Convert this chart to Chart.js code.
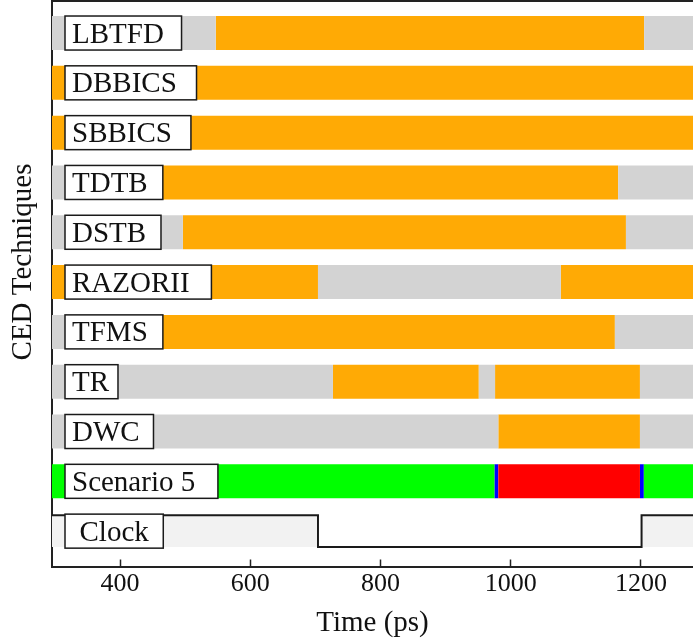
<!DOCTYPE html>
<html>
<head>
<meta charset="utf-8">
<script src="https://cdn.jsdelivr.net/npm/chart.js@4.4.0/dist/chart.umd.min.js"></script>
<style>
  html, body { margin: 0; padding: 0; background: #ffffff; overflow: hidden; }
  #wrap { width: 693px; height: 644px; }
</style>
</head>
<body>
<div id="wrap"><canvas id="timeline" width="693" height="644"></canvas></div>
<script>
// Rows of the timing diagram, top to bottom (the last row is the clock)
const rowNames = ['LBTFD', 'DBBICS', 'SBBICS', 'TDTB', 'DSTB', 'RAZORII', 'TFMS', 'TR', 'DWC', 'Scenario 5', 'Clock'];
const timeStart = 295.5;
const timeEnd = 1280;
const timeTicks = [400, 600, 800, 1000, 1200];

// Intervals as [row, from (ps), to (ps)]
const idleIntervals = [
  [0, 295.5, 547], [0, 1205, 1280],
  [3, 295.5, 466], [3, 1165, 1280],
  [4, 295.5, 496.5], [4, 1177, 1280],
  [5, 704, 1077],
  [6, 295.5, 466], [6, 1160, 1280],
  [7, 295.5, 727], [7, 951, 976], [7, 1198.5, 1280],
  [8, 295.5, 981], [8, 1198.5, 1280]
];
const activeIntervals = [
  [0, 547, 1205],
  [1, 295.5, 1280],
  [2, 295.5, 1280],
  [3, 466, 1165],
  [4, 496.5, 1177],
  [5, 295.5, 704], [5, 1077, 1280],
  [6, 466, 1160],
  [7, 727, 951], [7, 976, 1198.5],
  [8, 981, 1198.5]
];
const correctIntervals = [[9, 295.5, 975], [9, 1204.5, 1280]];
const errorIntervals = [[9, 981, 1198.5]];
const detectIntervals = [[9, 975, 981], [9, 1198.5, 1204.5]];

// Clock waveform: edge times and logic levels
const clockTimes = [295.5, 704, 704, 1201, 1201, 1280];
const clockLevels = [1, 1, 0, 0, 1, 1];

const clockRow = 10;
const clockSwing = 0.32;
const barFraction = 0.683;
const serif = '"Liberation Serif", "Times New Roman", serif';

function toBars(list) {
  return list.map(([row, from, to]) => ({ y: row, x: [from, to] }));
}

function barSet(list, color) {
  return {
    type: 'bar',
    indexAxis: 'y',
    data: toBars(list),
    backgroundColor: color,
    borderWidth: 0,
    grouped: false,
    categoryPercentage: 1,
    barPercentage: barFraction
  };
}

const clockData = clockTimes.map((t, i) => ({
  x: t,
  y: clockRow + (clockLevels[i] ? -clockSwing : clockSwing)
}));

// Boxed row names drawn on top of the bars
const rowLabels = {
  id: 'rowLabels',
  afterDatasetsDraw(chart) {
    const { ctx, chartArea, scales: { y } } = chart;
    ctx.save();
    ctx.font = '29px ' + serif;
    ctx.lineWidth = 1.5;
    ctx.strokeStyle = '#1a1a1a';
    ctx.textBaseline = 'alphabetic';
    rowNames.forEach((name, i) => {
      const top = y.getPixelForValue(i - barFraction / 2);
      const bottom = y.getPixelForValue(i + barFraction / 2);
      const mid = y.getPixelForValue(i);
      const tw = ctx.measureText(name).width;
      const left = chartArea.left + 13;
      const isClock = i === clockRow;
      const w = isClock ? tw + 29 : tw * 1.16 + 10;
      ctx.fillStyle = '#ffffff';
      ctx.fillRect(left, top, w, bottom - top);
      ctx.strokeRect(left, top, w, bottom - top);
      ctx.fillStyle = '#111111';
      ctx.textAlign = 'left';
      const tx = isClock ? left + (w - tw) / 2 : left + 7;
      ctx.fillText(name, tx, mid + 9.6);
    });
    ctx.restore();
  }
};

// Top edge of the plot frame
const frameTop = {
  id: 'frameTop',
  afterDraw(chart) {
    const { ctx, chartArea } = chart;
    ctx.save();
    ctx.strokeStyle = '#222222';
    ctx.lineWidth = 2;
    ctx.beginPath();
    ctx.moveTo(chartArea.left - 1, chartArea.top);
    ctx.lineTo(chartArea.right, chartArea.top);
    ctx.stroke();
    ctx.restore();
  }
};

new Chart(document.getElementById('timeline'), {
  type: 'bar',
  data: {
    datasets: [
      barSet(idleIntervals, '#d3d3d3'),
      barSet(activeIntervals, '#ffaa05'),
      barSet(correctIntervals, '#00ff00'),
      barSet(errorIntervals, '#ff0000'),
      barSet(detectIntervals, '#0000ff'),
      {
        type: 'line',
        indexAxis: 'x',
        data: clockData,
        borderColor: '#1a1a1a',
        borderWidth: 2,
        pointRadius: 0,
        tension: 0,
        fill: { value: clockRow + clockSwing },
        backgroundColor: '#f2f2f2'
      }
    ]
  },
  options: {
    responsive: false,
    animation: false,
    devicePixelRatio: 1,
    layout: { padding: { top: 1, right: 0, left: 0, bottom: 0 } },
    plugins: { legend: { display: false }, tooltip: { enabled: false } },
    scales: {
      x: {
        type: 'linear',
        position: 'bottom',
        offset: false,
        min: timeStart,
        max: timeEnd,
        afterBuildTicks(scale) { scale.ticks = timeTicks.map(v => ({ value: v })); },
        afterFit(scale) { scale.height = 77.5; },
        grid: { offset: false, drawOnChartArea: false, drawTicks: true, tickLength: -7, tickWidth: 1.5, tickColor: '#222222' },
        border: { display: true, color: '#222222', width: 2 },
        ticks: { font: { family: serif, size: 26 }, color: '#111111', padding: 9, maxRotation: 0, callback: v => String(v) },
        title: { display: true, text: 'Time (ps)', font: { family: serif, size: 29 }, color: '#111111', padding: { top: 0, bottom: 3 } }
      },
      y: {
        type: 'linear',
        position: 'left',
        offset: false,
        reverse: true,
        min: -0.643,
        max: 10.71,
        afterBuildTicks(scale) { scale.ticks = rowNames.map((_, i) => ({ value: i })); },
        afterFit(scale) { scale.width = 52; },
        grid: { offset: false, display: false, drawTicks: false },
        border: { display: true, color: '#222222', width: 2 },
        ticks: { display: false },
        title: { display: true, text: '      CED Techniques', font: { family: serif, size: 29 }, color: '#111111', padding: { top: 6, bottom: 0 } }
      }
    }
  },
  plugins: [rowLabels, frameTop]
});
</script>
</body>
</html>
